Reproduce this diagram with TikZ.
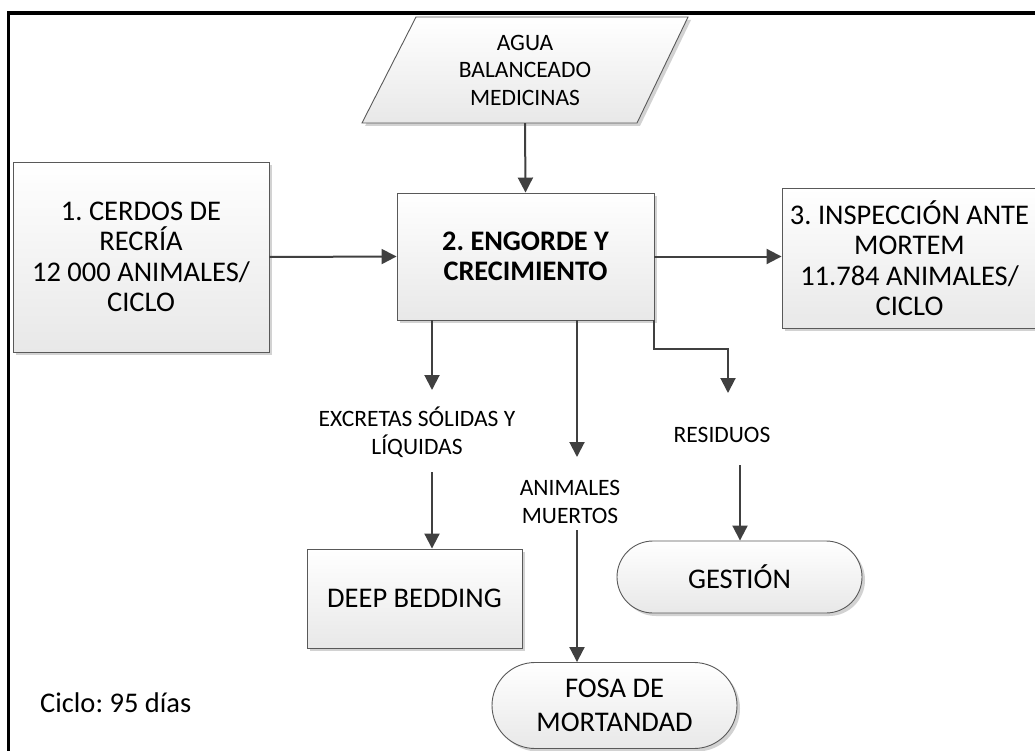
\documentclass[tikz,border=0pt]{standalone}
\usepackage{fontspec}
\setmainfont{Carlito}
\frenchspacing
\usetikzlibrary{arrows.meta,shadows,shapes.misc}
\definecolor{linec}{HTML}{404040}
\definecolor{borderc}{HTML}{595959}
\tikzset{
  boxshade/.style={top color=white,bottom color=black!9,draw=borderc,line width=0.9pt,
    drop shadow={shadow xshift=3pt,shadow yshift=-3pt,fill=black!35,opacity=0.5}},
  procbox/.style={boxshade,rectangle,align=center,inner sep=0pt,font=\frenchspacing\fontsize{28.5}{30.5}\selectfont},
  termbox/.style={boxshade,rounded rectangle,align=center,inner sep=0pt,font=\frenchspacing\fontsize{28.5}{34}\selectfont},
  lbl/.style={align=center,inner sep=0pt,font=\frenchspacing\fontsize{23.5}{28}\selectfont},
  flow/.style={draw=linec,line width=2pt,-{Triangle[length=15pt,width=15pt]}},
}
\begin{document}
\begin{tikzpicture}[x=1pt,y=-1pt]
\useasboundingbox (0,0) rectangle (1035,751);
% frame
\draw[line width=3.5pt] (8.5,751) -- (8.5,13) -- (1035,13);
% input parallelogram
\path[boxshade] (416,17) -- (688,17) -- (637,123) -- (362,123) -- cycle;
\node[lbl,minimum height=106pt,font=\frenchspacing\fontsize{23.5}{27.5}\selectfont] (inp) at (525,70) {AGUA\\BALANCEADO\\MEDICINAS};
% process boxes
\node[procbox,minimum width=256pt,minimum height=190pt] (b1) at (141,257) {1. CERDOS DE\\RECRÍA\\12 000 ANIMALES/\\CICLO};
\node[procbox,minimum width=257pt,minimum height=127pt,font=\frenchspacing\bfseries\fontsize{28.3}{30.5}\selectfont] (b2) at (525.5,256.5) {2. ENGORDE Y\\CRECIMIENTO};
\node[procbox,minimum width=255pt,minimum height=140pt] (b3) at (909.5,258) {3. INSPECCIÓN ANTE\\MORTEM\\11.784 ANIMALES/\\CICLO};
\node[procbox,minimum width=215pt,minimum height=99pt] (deep) at (414.5,598.5) {DEEP BEDDING};
\node[termbox,minimum width=245pt,minimum height=72pt] (gest) at (739.5,577) {GESTIÓN};
\node[termbox,minimum width=245pt,minimum height=86pt] (fosa) at (614.5,705.5) {FOSA DE\\MORTANDAD};
% labels
\node[lbl] (exc) at (417,432) {EXCRETAS SÓLIDAS Y\\LÍQUIDAS};
\node[lbl] (res) at (722,435) {RESIDUOS};
\node[lbl] (ani) at (570,501.5) {ANIMALES\\MUERTOS};
\node[anchor=west,inner sep=0pt,font=\frenchspacing\fontsize{28.5}{30}\selectfont] (ciclo) at (40,703) {Ciclo: 95 días};
% connectors
\coordinate (e1) at (432,390);
\coordinate (e2) at (432,472);
\coordinate (m1) at (577,457);
\coordinate (m2) at (577,530);
\coordinate (r1) at (728,393);
\coordinate (r2) at (740,465);
\draw[flow] (inp.south) -- (b2.north);
\draw[flow] (b1.east) -- (b2.west);
\draw[flow] (b2.east) -- (b3.west |- b2.east);
\draw[flow] (b2.south -| e1) -- (e1);
\draw[flow] (e2) -- (deep.north -| e2);
\draw[flow] (b2.south -| m1) -- (m1);
\draw[flow] (m2) -- (fosa.north -| m2);
\draw[flow] (b2.south east) -- ++(0,29) -| (r1);
\draw[flow] (r2) -- (gest.north -| r2);
\end{tikzpicture}
\end{document}
